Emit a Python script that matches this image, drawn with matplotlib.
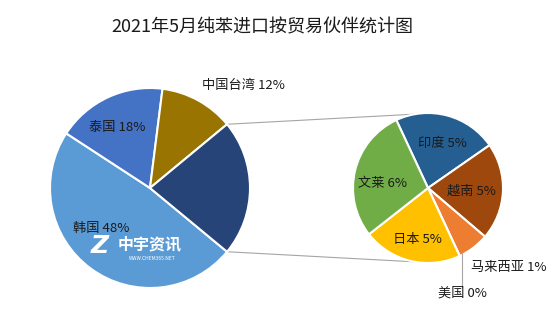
import numpy as np
import matplotlib
matplotlib.use("Agg")
import matplotlib.pyplot as plt

plt.rcParams['font.family'] = ['Noto Sans CJK SC', 'DejaVu Sans']

title = "2021年5月纯苯进口按贸易伙伴统计图"

main_labels = ["韩国", "泰国", "中国台湾", "其他"]
main_values = [48.2, 17.8, 12.0, 22.0]
main_colors = ["#5B9BD5", "#4472C4", "#9A7400", "#264478"]

sub_labels = ["印度", "越南", "马来西亚", "美国", "日本", "文莱"]
sub_values = [4.9, 4.6, 1.5, 0.0, 4.7, 6.3]
sub_display = ["5%", "5%", "1%", "0%", "5%", "6%"]
main_display = ["48%", "18%", "12%"]
sub_colors = ["#255E91", "#9E480E", "#ED7D31", "#A5A5A5", "#FFC000", "#70AD47"]

W, H = 553, 332
fig = plt.figure(figsize=(W / 100, H / 100), dpi=100)
ax = fig.add_axes([0, 0, 1, 1])
ax.set_xlim(0, W)
ax.set_ylim(0, H)
ax.axis("off")

c1 = (150, H - 188)
r1 = 100
c2 = (428, H - 188)
r2 = 75

other_frac = main_values[3] / sum(main_values)
half = other_frac * 360 / 2
start_main = -half

wedges1, _ = ax.pie(main_values, colors=main_colors, center=c1, radius=r1,
                    startangle=start_main, counterclock=False,
                    wedgeprops=dict(edgecolor="white", linewidth=1.5))
start_sub = 115
wedges2, _ = ax.pie(sub_values, colors=sub_colors, center=c2, radius=r2,
                    startangle=start_sub, counterclock=False,
                    wedgeprops=dict(edgecolor="white", linewidth=1.5))
ax.set_xlim(0, W)
ax.set_ylim(0, H)
ax.set_aspect("equal")

# connector lines
for a_deg, b_deg in ((half, 100), (-half, 260)):
    a = np.deg2rad(a_deg)
    b = np.deg2rad(b_deg)
    p1 = (c1[0] + r1 * np.cos(a), c1[1] + r1 * np.sin(a))
    p2 = (c2[0] + r2 * np.cos(b), c2[1] + r2 * np.sin(b))
    ax.plot([p1[0], p2[0]], [p1[1], p2[1]], color="#A5A5A5", lw=0.8, zorder=0)

fs = 9.5
# main labels
ax.text(101, H - 228, f"{main_labels[0]} {main_display[0]}", ha="center", va="center", fontsize=fs, color="#1a1a1a")
ax.text(117, H - 128, f"{main_labels[1]} {main_display[1]}", ha="center", va="center", fontsize=fs, color="#1a1a1a")
ax.text(243, H - 85, f"{main_labels[2]} {main_display[2]}", ha="center", va="center", fontsize=fs, color="#1a1a1a")

# sub labels
pos = {"印度": (442, 143), "越南": (471, 191), "文莱": (383, 183),
       "日本": (417, 239), "马来西亚": (509, 267), "美国": (462, 293)}
for lab, disp in zip(sub_labels, sub_display):
    x, y = pos[lab]
    ax.text(x, H - y, f"{lab} {disp}", ha="center", va="center", fontsize=fs, color="#1a1a1a")

# leader line for 美国
ax.plot([462, 462], [H - 253, H - 287], color="#A5A5A5", lw=0.8)

# watermark
ax.text(100, H - 246, "Z", ha="center", va="center", fontsize=18, color="white",
        fontweight="bold", style="italic", family="DejaVu Sans")
ax.text(150, H - 244, "中宇资讯", ha="center", va="center", fontsize=11.5, color="white", fontweight="bold")
ax.text(152, H - 258, "WWW.CHEM365.NET", ha="center", va="center", fontsize=3.5, color="white")

fig.text(262 / W, 1 - 27 / H, title, ha="center", va="center", fontsize=13, color="#1a1a1a")

fig.savefig("out.png", dpi=100, facecolor="white")
